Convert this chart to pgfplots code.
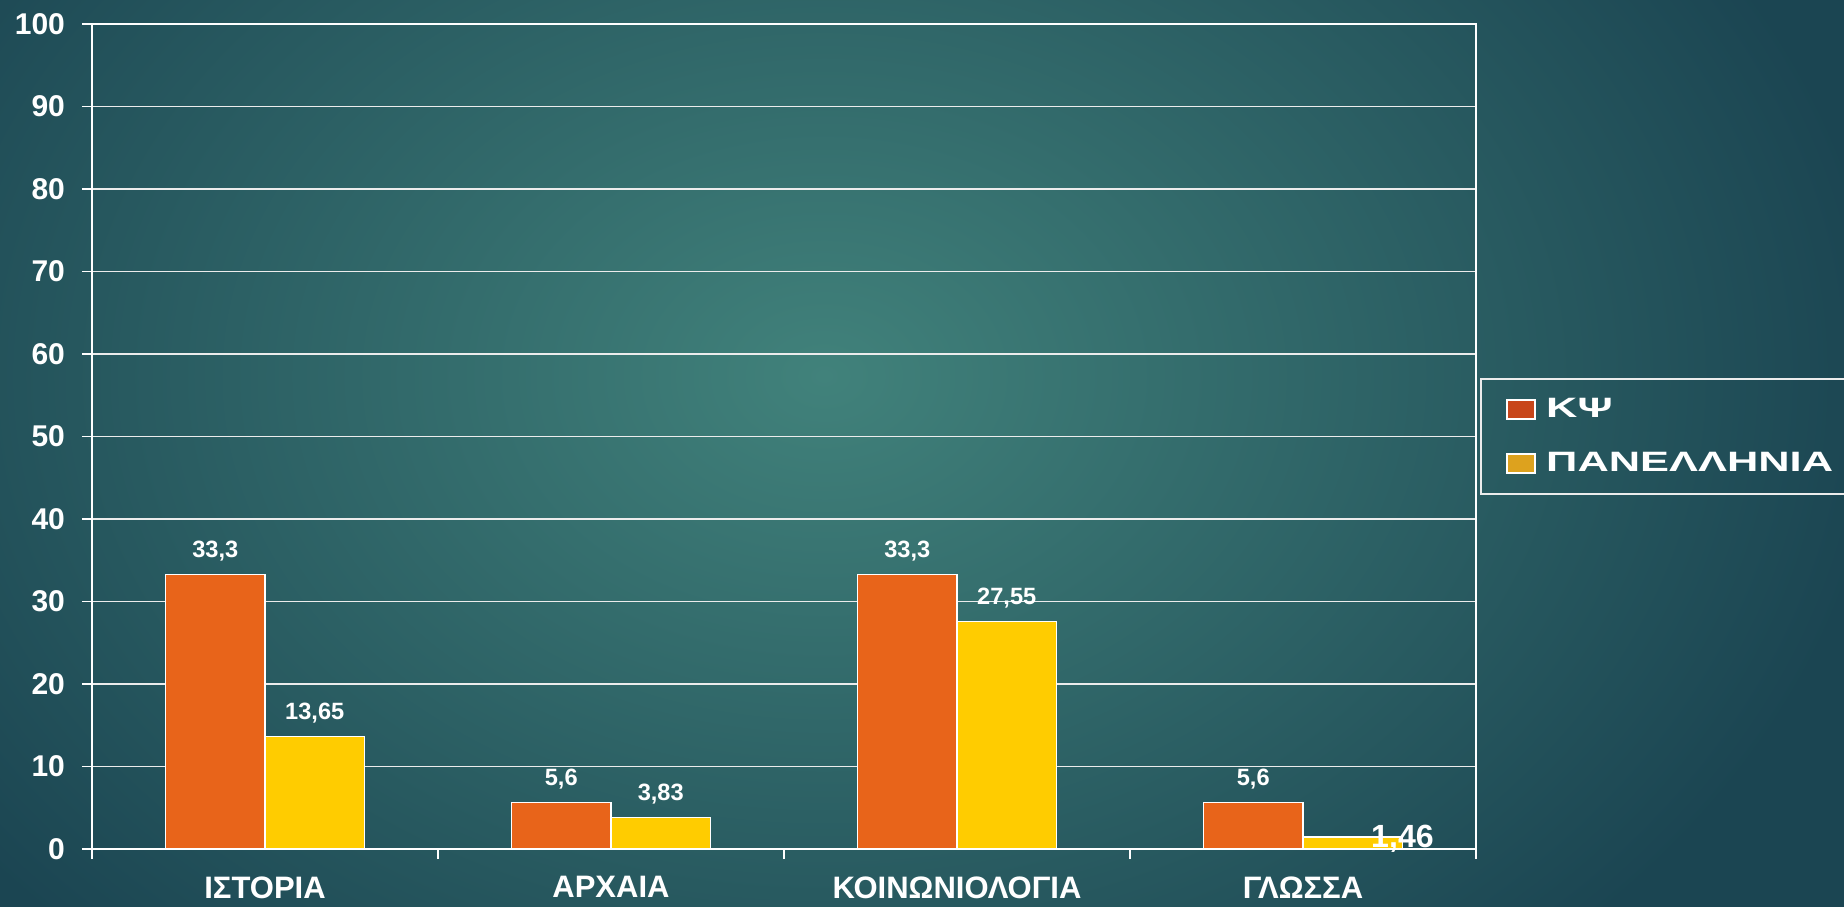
\documentclass[border=0pt]{standalone}
\usepackage{fontspec}
\setmainfont{Liberation Sans}
\usepackage{graphicx}
\usepackage{pgfplots}
\pgfplotsset{compat=1.18}
\definecolor{kpsi}{HTML}{E8641A}
\definecolor{pan}{HTML}{FFCC00}
\definecolor{kpsileg}{HTML}{C8461A}
\definecolor{panleg}{HTML}{DDA21E}
\definecolor{bgin}{HTML}{41827B}
\definecolor{bgout}{HTML}{1B4552}
\pgfplotstableread{
x kpsi pan
0.5 33.3 13.65
1.5 5.6 3.83
2.5 33.3 27.55
3.5 5.6 1.46
}\datatab
\begin{document}
\begin{tikzpicture}
\useasboundingbox (0,0) rectangle (922pt,453pt);
\shade[inner color=bgin, outer color=bgout] (-120pt,-130pt) rectangle (944pt,660pt);
\begin{axis}[
  at={(46pt,28.5pt)}, anchor=south west,
  scale only axis, width=692pt, height=412.5pt,
  xmin=0, xmax=4, ymin=0, ymax=100,
  ybar=0pt, bar width=0.2875,
  axis line style={white, line width=0.8pt},
  ytick={0,10,...,100},
  ymajorgrids, grid style={white!85!gray, line width=0.6pt},
  xtick={0,1,2,3,4},
  xticklabels={ΙΣΤΟΡΙΑ,ΑΡΧΑΙΑ,ΚΟΙΝΩΝΙΟΛΟΓΙΑ,ΓΛΩΣΣΑ},
  x tick label as interval,
  xtick pos=bottom, ytick pos=left,
  tick align=outside, major tick length=5pt,
  tick style={white, line width=0.8pt},
  yticklabel style={text=white, xshift=-5pt, font=\bfseries\fontsize{15}{15}\selectfont, /pgf/number format/assume math mode=true},
  xticklabel style={text=white, yshift=-5.3pt, font=\bfseries\fontsize{15.5}{15.5}\selectfont},
  nodes near coords,
  every node near coord/.append style={text=white, anchor=base, yshift=8.5pt, font=\bfseries\fontsize{11.8}{11.8}\selectfont,
    /pgf/number format/use comma, /pgf/number format/assume math mode=true},
  legend style={at={(1.003,0.5709)}, anchor=north west, draw=white!85!gray, line width=1pt, fill=none, text=white,
    font=\bfseries\fontsize{14}{14}\selectfont, inner xsep=12.5pt, inner ysep=7.7pt, row sep=12pt},
  legend cell align=left,
]
\addplot[fill=kpsi, draw=white, line width=0.6pt,
  legend image code/.code={\draw[fill=kpsileg, draw=white, line width=1pt] (0pt,-4.75pt) rectangle (14pt,4.75pt);}]
  table[x=x, y=kpsi] {\datatab};
\addlegendentry{\hspace{3pt}\scalebox{1.55}[1]{ΚΨ}}
\addplot[fill=pan, draw=white, line width=0.6pt,
  coordinate style/.condition={\coordindex==3}{scale=1.36, xshift=11.7pt, yshift=-12.5pt},
  legend image code/.code={\draw[fill=panleg, draw=white, line width=1pt] (0pt,-4.75pt) rectangle (14pt,4.75pt);}]
  table[x=x, y=pan] {\datatab};
\addlegendentry{\hspace{3pt}\scalebox{1.55}[1]{ΠΑΝΕΛΛΗΝΙΑ}}
\end{axis}
\end{tikzpicture}
\end{document}
